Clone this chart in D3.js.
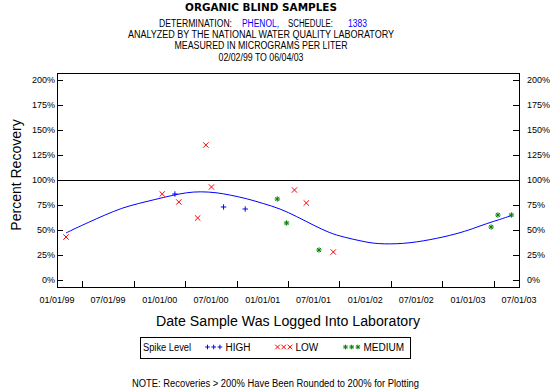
<!DOCTYPE html>
<html>
<head>
<meta charset="utf-8">
<script src="https://cdn.jsdelivr.net/npm/d3@7"></script>
<style>
  body { margin: 0; background: #fff; }
  svg { display: block; }
  text { font-family: "Liberation Sans", Arial, sans-serif; fill: #000; }
</style>
</head>
<body>
<div id="chart"></div>
<script>
// spike level samples (date logged, percent recovery)
const highDates = ["2000-02-24", "2000-08-15", "2000-10-31"];
const highValues = [86, 73, 71];

const lowDates = ["1999-02-02", "2000-01-10", "2000-03-09", "2000-05-15", "2000-06-13",
                  "2000-07-03", "2001-04-24", "2001-06-05", "2001-09-09"];
const lowValues = [43, 86, 78, 62, 135, 93, 90, 77, 28];

const mediumDates = ["2001-02-22", "2001-03-27", "2001-07-20", "2003-03-24", "2003-04-17", "2003-06-04"];
const mediumValues = [81, 57, 30, 53, 65, 65];

// smoothed trend line
const fitDates = ["1999-02-02", "1999-03-06", "1999-04-22", "1999-06-20", "1999-08-19", "1999-10-17",
                  "1999-12-15", "2000-02-12", "2000-04-06", "2000-05-23", "2000-07-21", "2000-09-07",
                  "2000-11-05", "2001-01-03", "2001-03-03", "2001-05-02", "2001-06-29", "2001-08-27",
                  "2001-10-14", "2001-12-24", "2002-02-10", "2002-05-16", "2002-08-18", "2002-11-21",
                  "2003-01-20", "2003-03-08", "2003-04-24", "2003-06-04"];
const fitValues = [47, 51.5, 57.5, 65, 72, 76.5, 80.5, 84.5, 87.5, 88.5, 87.5, 85,
                   81.5, 76.5, 71.5, 63.5, 55, 47, 43, 38.5, 36, 36, 40, 46,
                   51.5, 56.5, 60.5, 64.5];

const xLabelDates = ["1999-01-01", "1999-07-01", "2000-01-01", "2000-07-01", "2001-01-01",
                     "2001-07-01", "2002-01-01", "2002-07-01", "2003-01-01", "2003-07-01"];
const yTicks = [0, 25, 50, 75, 100, 125, 150, 175, 200];

const parse = d3.timeParse("%Y-%m-%d");
const fmt = d3.timeFormat("%m/%d/%y");

const width = 550, height = 391;
const plotL = 57, plotR = 519, plotT = 73, plotB = 287;

const svg = d3.select("#chart").append("svg")
    .attr("width", width)
    .attr("height", height);

const x = d3.scaleTime()
    .domain([parse(xLabelDates[0]), parse(xLabelDates[xLabelDates.length - 1])])
    .range([plotL, plotR]);
const y = d3.scaleLinear()
    .domain([-7, 207])
    .range([plotB, plotT]);

const crisp = v => Math.round(v) + 0.5;

// headings
const head = svg.append("g");
head.append("text")
    .attr("x", 261).attr("y", 11)
    .attr("text-anchor", "middle")
    .style("font-family", "'DejaVu Sans', sans-serif")
    .style("font-weight", "bold")
    .style("font-size", "10px")
    .attr("textLength", 152).attr("lengthAdjust", "spacingAndGlyphs")
    .text("ORGANIC BLIND SAMPLES");

const line2 = [
  {t: "DETERMINATION:", x: 159, w: 73, c: "#000"},
  {t: "PHENOL,", x: 242, w: 37, c: "#0000ff"},
  {t: "SCHEDULE:", x: 288, w: 45, c: "#000"},
  {t: "1383", x: 348, w: 19, c: "#0000ff"}
];
line2.forEach(p => {
  head.append("text")
      .attr("x", p.x).attr("y", 27)
      .style("font-size", "10px")
      .style("fill", p.c)
      .attr("textLength", p.w).attr("lengthAdjust", "spacingAndGlyphs")
      .text(p.t);
});

[["ANALYZED BY THE NATIONAL WATER QUALITY LABORATORY", 37.5, 266],
 ["MEASURED IN MICROGRAMS PER LITER", 49, 173],
 ["02/02/99 TO 06/04/03", 60.5, 85]].forEach(([t, yy, w]) => {
  head.append("text")
      .attr("x", 261).attr("y", yy)
      .attr("text-anchor", "middle")
      .style("font-size", "10px")
      .attr("textLength", w).attr("lengthAdjust", "spacingAndGlyphs")
      .text(t);
});

// frame and reference line
const frame = svg.append("g")
    .attr("fill", "none")
    .attr("stroke", "#000")
    .attr("shape-rendering", "crispEdges");
frame.append("rect")
    .attr("x", crisp(plotL)).attr("y", crisp(plotT))
    .attr("width", Math.round(plotR) - Math.round(plotL))
    .attr("height", Math.round(plotB) - Math.round(plotT));
frame.append("line")
    .attr("x1", plotL).attr("x2", plotR)
    .attr("y1", crisp(y(100))).attr("y2", crisp(y(100)));

// y ticks both sides, pointing inward
const yt = svg.append("g").attr("stroke", "#000").attr("shape-rendering", "crispEdges");
yTicks.forEach(v => {
  yt.append("line").attr("x1", plotL).attr("x2", plotL + 6)
      .attr("y1", crisp(y(v))).attr("y2", crisp(y(v)));
  yt.append("line").attr("x1", plotR - 6).attr("x2", plotR)
      .attr("y1", crisp(y(v))).attr("y2", crisp(y(v)));
});
svg.append("g").selectAll("text").data(yTicks).join("text")
    .attr("x", 55).attr("y", d => y(d) + 3.3)
    .attr("text-anchor", "end")
    .style("font-size", "9px")
    .text(d => d + "%");
svg.append("g").selectAll("text").data(yTicks).join("text")
    .attr("x", 527).attr("y", d => y(d) + 3.3)
    .style("font-size", "9px")
    .text(d => d + "%");

// x ticks sit halfway between labelled dates
const labelDates = xLabelDates.map(parse);
const tickDates = d3.pairs(labelDates).map(([a, b]) => new Date((+a + +b) / 2));
svg.append("g").attr("stroke", "#000").attr("shape-rendering", "crispEdges")
  .selectAll("line").data(tickDates).join("line")
    .attr("x1", d => crisp(x(d))).attr("x2", d => crisp(x(d)))
    .attr("y1", plotB).attr("y2", plotB - 6);
svg.append("g").selectAll("text").data(labelDates).join("text")
    .attr("x", d => x(d)).attr("y", 303)
    .attr("text-anchor", "middle")
    .style("font-size", "9px")
    .text(d => fmt(d));

// axis titles
svg.append("text")
    .attr("x", (plotL + plotR) / 2).attr("y", 326)
    .attr("text-anchor", "middle")
    .style("font-size", "14px")
    .attr("textLength", 264).attr("lengthAdjust", "spacingAndGlyphs")
    .text("Date Sample Was Logged Into Laboratory");
svg.append("text")
    .attr("transform", "translate(21,175) rotate(-90)")
    .attr("text-anchor", "middle")
    .style("font-size", "14px")
    .text("Percent Recovery");

// trend line
const fit = fitDates.map((d, i) => [parse(d), fitValues[i]]);
svg.append("path")
    .datum(fit)
    .attr("fill", "none")
    .attr("stroke", "#0000ff")
    .attr("stroke-width", 1)
    .attr("d", d3.line().x(d => x(d[0])).y(d => y(d[1])).curve(d3.curveBasis));

// markers
function marker(g, type, cx, cy, r, color) {
  const m = g.append("g").attr("stroke", color).attr("stroke-width", 1).attr("fill", "none");
  if (type === "plus" || type === "star") {
    m.append("line").attr("x1", cx - r).attr("x2", cx + r).attr("y1", cy).attr("y2", cy);
    m.append("line").attr("x1", cx).attr("x2", cx).attr("y1", cy - r).attr("y2", cy + r);
  }
  if (type === "cross" || type === "star") {
    const q = type === "star" ? r * 0.75 : r;
    m.append("line").attr("x1", cx - q).attr("x2", cx + q).attr("y1", cy - q).attr("y2", cy + q);
    m.append("line").attr("x1", cx - q).attr("x2", cx + q).attr("y1", cy + q).attr("y2", cy - q);
  }
}

const series = [
  {name: "HIGH", type: "plus", color: "#0000ff", dates: highDates, values: highValues},
  {name: "LOW", type: "cross", color: "#ff0000", dates: lowDates, values: lowValues},
  {name: "MEDIUM", type: "star", color: "#008000", dates: mediumDates, values: mediumValues}
];
const pts = svg.append("g");
series.forEach(s => {
  s.dates.forEach((d, i) => {
    marker(pts, s.type, x(parse(d)), y(Math.min(s.values[i], 200)), 2.7, s.color);
  });
});

// legend
const lg = svg.append("g");
lg.append("rect")
    .attr("x", 140.5).attr("y", 337.5).attr("width", 270).attr("height", 21)
    .attr("fill", "none").attr("stroke", "#000")
    .attr("shape-rendering", "crispEdges");
lg.append("text").attr("x", 143).attr("y", 351).style("font-size", "10px")
    .attr("textLength", 48).attr("lengthAdjust", "spacingAndGlyphs")
    .text("Spike Level");
const legendX = [205, 275, 343];
series.forEach((s, k) => {
  for (let j = 0; j < 3; j++) {
    marker(lg, s.type, legendX[k] + 2.5 + j * 6.2, 347, 2.3, s.color);
  }
  lg.append("text").attr("x", legendX[k] + 20.5).attr("y", 351)
      .style("font-size", "10px")
      .text(s.name);
});

// footnote
svg.append("text")
    .attr("x", 275.5).attr("y", 387)
    .attr("text-anchor", "middle")
    .style("font-size", "10px")
    .attr("textLength", 287).attr("lengthAdjust", "spacingAndGlyphs")
    .text("NOTE: Recoveries > 200% Have Been Rounded to 200% for Plotting");
</script>
</body>
</html>
